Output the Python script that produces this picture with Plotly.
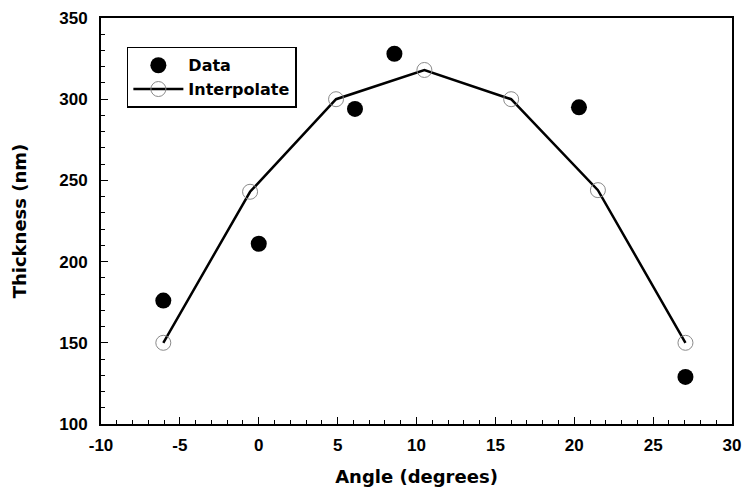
import plotly.graph_objects as go

# Data
data_angle = [-6.05, 0.0, 6.1, 8.6, 20.3, 27.05]
data_thickness = [176, 211, 294, 328, 295, 129]

interp_angle = [-6.05, -0.55, 4.9, 10.5, 16.0, 21.5, 27.05]
interp_thickness = [150, 243, 300, 318, 300, 244, 150]

x_ticks = [-10, -5, 0, 5, 10, 15, 20, 25, 30]
y_ticks = [100, 150, 200, 250, 300, 350]

FONT = "Liberation Sans, Arial, Helvetica, sans-serif"
TFONT = "DejaVu Sans, Liberation Sans, sans-serif"

fig = go.Figure()
fig.add_trace(go.Scatter(
    x=data_angle, y=data_thickness, mode="markers", name="<b>Data</b>",
    marker=dict(symbol="circle", size=16, color="black"),
))
fig.add_trace(go.Scatter(
    x=interp_angle, y=interp_thickness, mode="lines+markers", name="<b>Interpolate</b>",
    line=dict(color="black", width=2.5),
    marker=dict(symbol="circle-open", size=15, color="#8a8a8a", line=dict(width=1)),
))

axis_common = dict(
    showgrid=False, zeroline=False, showline=True, mirror=True,
    linecolor="black", linewidth=2, automargin=False,
    ticks="inside", ticklen=7, tickwidth=1.2, tickcolor="black",
    tickfont=dict(family=FONT, size=17, color="black"),
)

fig.update_xaxes(
    range=[-10, 30], tickvals=x_ticks, ticktext=[f"<b>{v}</b>" for v in x_ticks],
    minor=dict(ticks="inside", ticklen=4, dtick=1, tickcolor="black", tickwidth=1),
    ticklabelstandoff=5,
    title=dict(text="<b>Angle (degrees)</b>", font=dict(family=TFONT, size=18, color="black"), standoff=16),
    **axis_common,
)
fig.update_yaxes(
    range=[100, 350], tickvals=y_ticks, ticktext=[f"<b>{v}</b>" for v in y_ticks],
    minor=dict(ticks="inside", ticklen=4, dtick=10, tickcolor="black", tickwidth=1),
    ticklabelstandoff=8,
    title=dict(text="<b>Thickness (nm)</b>", font=dict(family=TFONT, size=18, color="black"), standoff=28),
    **axis_common,
)

fig.update_layout(
    width=755, height=490,
    margin=dict(l=101, r=23, t=18, b=66, autoexpand=False),
    paper_bgcolor="white", plot_bgcolor="white",
    showlegend=True,
    legend=dict(
        x=0.041, y=0.929, xanchor="left", yanchor="top",
        bordercolor="black", borderwidth=1.5, bgcolor="white",
        font=dict(family=TFONT, size=16, color="black"),
        itemwidth=50, tracegroupgap=0,
    ),
)

fig.write_html("out.html")
